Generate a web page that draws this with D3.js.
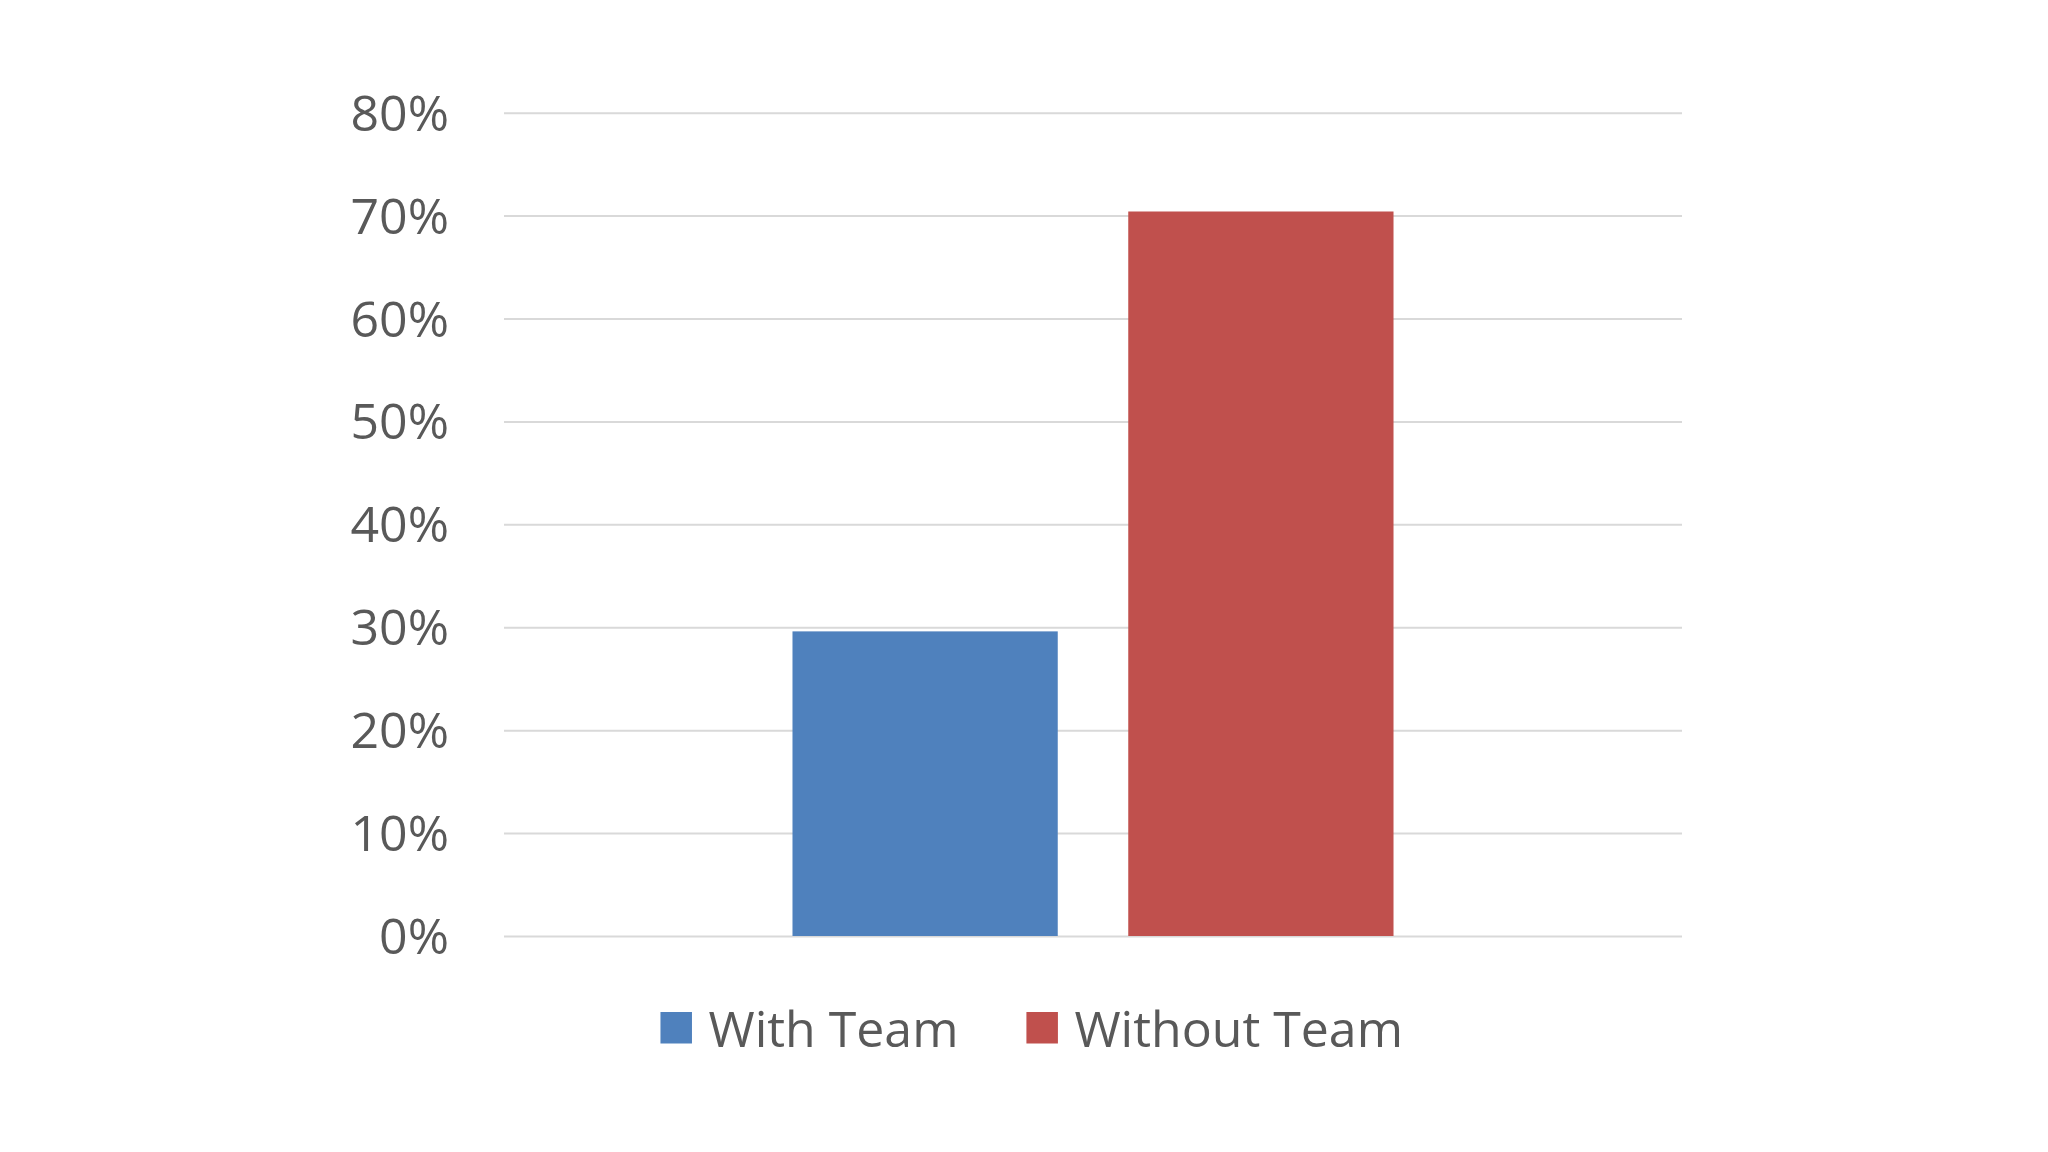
<!DOCTYPE html>
<html>
<head>
<meta charset="utf-8">
<script src="https://cdn.jsdelivr.net/npm/d3@7"></script>
<style>
  html, body { margin: 0; padding: 0; background: #ffffff; }
  text { font-family: "Open Sans", "Noto Sans", sans-serif; fill: #595959; }
</style>
</head>
<body>
<div id="chart"></div>
<script>
// chart values
const category = [""];
const seriesNames = ["With Team", "Without Team"];
const seriesValues = [0.296, 0.704];
const seriesColors = ["#4f81bd", "#c0504d"];
const tickValues = [0, 0.1, 0.2, 0.3, 0.4, 0.5, 0.6, 0.7, 0.8];

((() => {
  let width = 2048;
  let height = 1152;
  let margin = { top: 112.7, right: 366, bottom: 216, left: 504 };
  let fontSize = 50;

  let svg = d3.select("#chart")
    .append("svg")
    .attr("width", width)
    .attr("height", height);

  // y scale, 0% at the bottom gridline
  let y = d3.scaleLinear()
    .domain([0, 0.8])
    .range([height - margin.bottom, margin.top]);

  // one category, two series side by side
  let x0 = d3.scaleBand()
    .domain(category)
    .range([margin.left, width - margin.right])
    .paddingInner(0)
    .paddingOuter(0.48);

  let x1 = d3.scaleBand()
    .domain(seriesNames)
    .range([0, x0.bandwidth()])
    .paddingInner(0.21);

  // gridlines + labels via axis
  let yAxis = d3.axisLeft(y)
    .tickValues(tickValues)
    .tickFormat(d3.format(".0%"))
    .tickSize(-(width - margin.left - margin.right))
    .tickPadding(55);

  let axisG = svg.append("g")
    .attr("class", "y-axis")
    .attr("transform", `translate(${margin.left},0)`)
    .call(yAxis);

  axisG.select(".domain").remove();
  axisG.selectAll(".tick line")
    .attr("stroke", "#d9d9d9")
    .attr("stroke-width", 2);
  axisG.selectAll(".tick text")
    .attr("font-size", fontSize)
    .attr("dy", "0.35em")
    .style("font-family", "'Open Sans', 'Noto Sans', sans-serif")
    .attr("fill", "#595959");

  // bars
  let groups = svg.append("g")
    .selectAll("g")
    .data(category)
    .enter()
    .append("g")
    .attr("transform", d => `translate(${x0(d)},0)`);

  groups.selectAll("rect")
    .data(seriesNames.map((s, i) => ({ name: s, value: seriesValues[i], color: seriesColors[i] })))
    .enter()
    .append("rect")
    .attr("x", d => x1(d.name))
    .attr("y", d => y(d.value))
    .attr("width", x1.bandwidth())
    .attr("height", d => y(0) - y(d.value))
    .attr("fill", d => d.color);

  // legend, laid out from measured text widths
  let legend = svg.append("g").attr("class", "legend");
  let sw = 31.5, gapText = 16.5, gapItem = 68;
  let cursor = 0;
  seriesNames.forEach((s, i) => {
    let item = legend.append("g").attr("transform", `translate(${cursor},0)`);
    item.append("rect")
      .attr("x", 0).attr("y", 0)
      .attr("width", sw).attr("height", sw)
      .attr("fill", seriesColors[i]);
    let t = item.append("text")
      .attr("x", sw + gapText)
      .attr("y", 34.5)
      .attr("font-size", fontSize)
      .text(s);
    cursor += sw + gapText + t.node().getComputedTextLength() + gapItem;
  });
  let legendWidth = cursor - gapItem;
  legend.attr("transform", `translate(${1031.7 - legendWidth / 2},1012)`);
})());
</script>
</body>
</html>
